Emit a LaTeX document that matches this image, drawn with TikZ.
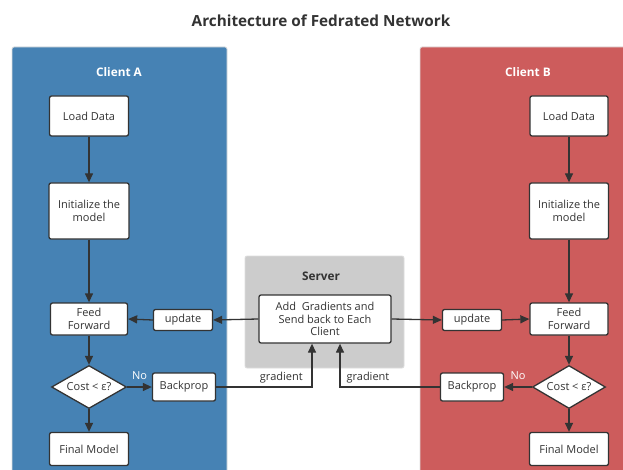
\documentclass[tikz,border=0pt]{standalone}
\usepackage{fontspec}
\setmainfont{Open Sans}
\usetikzlibrary{shapes.geometric,arrows.meta}
\definecolor{txt}{HTML}{333333}
\definecolor{bluep}{HTML}{4682B4}
\definecolor{redp}{HTML}{CD5C5C}
\definecolor{grayp}{HTML}{CCCCCC}
\definecolor{panelline}{HTML}{DDDDDD}
\tikzset{
  panel/.style={draw=panelline, line width=0.8pt, rounded corners=2pt},
  box/.style={draw=txt, fill=white, line width=1.3pt, rounded corners=2pt, align=center,
    inner sep=1pt, font=\fontsize{11}{13.5}\selectfont, text=txt},
  dia/.style={diamond, draw=txt, fill=white, line width=1.3pt, inner sep=0pt, aspect=1.75,
    font=\fontsize{11}{13.5}\selectfont, text=txt},
  conn/.style={draw=txt, line width=1.3pt, -{Triangle[length=9pt,width=8pt]}},
  paneltitle/.style={font=\fontsize{11.8}{14}\selectfont\bfseries, text=white},
  lbl/.style={font=\fontsize{11}{13}\selectfont, text=txt},
  nolbl/.style={font=\fontsize{11}{13}\selectfont, text=white}
}
\begin{document}
\begin{tikzpicture}[x=1pt,y=-1pt]
\clip (0,0) rectangle (623,470);
\fill[white] (0,0) rectangle (623,470);
% title
\node[font=\fontsize{15.3}{18}\selectfont\bfseries, text=txt] (title) at (321,21) {Architecture of Fedrated Network};
% panels
\filldraw[panel, fill=bluep] (12,47) rectangle (227,480);
\filldraw[panel, fill=redp] (420,47) rectangle (635,480);
\filldraw[panel, fill=grayp] (245,256) rectangle (404,368);
\node[paneltitle] (ta) at (119,72) {Client A};
\node[paneltitle] (tb) at (528,72) {Client B};
\node[font=\fontsize{11.8}{14}\selectfont\bfseries, text=txt] (ts) at (321,276) {Server};
% client A
\node[box, minimum width=79pt, minimum height=40pt] (loadA) at (89,116) {Load Data};
\node[box, minimum width=80pt, minimum height=56pt] (initA) at (89,211) {Initialize the\\model};
\node[box, minimum width=77pt, minimum height=32pt] (ffA) at (89,319) {Feed\\Forward};
\node[dia, minimum width=75pt, minimum height=43pt] (diaA) at (89,387) {Cost < ε?};
\node[box, minimum width=79pt, minimum height=33pt] (finA) at (89,449) {Final Model};
\node[box, minimum width=59pt, minimum height=21pt] (updA) at (183,320) {update};
\node[box, minimum width=63pt, minimum height=28pt] (backA) at (184,387) {Backprop};
% server
\node[box, minimum width=132pt, minimum height=48pt, font=\fontsize{11}{12.8}\selectfont] (srv) at (325,319) {Add\ \ Gradients and\\Send back to Each\\Client};
% client B
\node[box, minimum width=78pt, minimum height=40pt] (loadB) at (569,116) {Load Data};
\node[box, minimum width=79pt, minimum height=56pt] (initB) at (569,211) {Initialize the\\model};
\node[box, minimum width=78pt, minimum height=32pt] (ffB) at (569,319) {Feed\\Forward};
\node[dia, minimum width=73pt, minimum height=43pt] (diaB) at (569,387) {Cost < ε?};
\node[box, minimum width=79pt, minimum height=33pt] (finB) at (569,449) {Final Model};
\node[box, minimum width=59pt, minimum height=21pt] (updB) at (472,320) {update};
\node[box, minimum width=63pt, minimum height=28pt] (backB) at (472,387) {Backprop};
% connectors A
\draw[conn] (loadA) -- (initA);
\draw[conn] (initA) -- (ffA);
\draw[conn] (ffA) -- (diaA);
\draw[conn] (diaA) -- (finA);
\draw[conn] (diaA.east) -- node[nolbl, above=3pt] {No} (backA.west);
\draw[conn] (srv.west) -- (updA.east);
\draw[conn] (updA.west) -- (ffA.east);
\draw[conn] (backA.east) -| node[lbl, pos=0.34, above=0pt] {gradient} ([xshift=-13pt]srv.south);
% connectors B
\draw[conn] (loadB) -- (initB);
\draw[conn] (initB) -- (ffB);
\draw[conn] (ffB) -- (diaB);
\draw[conn] (diaB) -- (finB);
\draw[conn] (diaB.west) -- node[nolbl, above=3pt] {No} (backB.east);
\draw[conn] (srv.east) -- (updB.west);
\draw[conn] (updB.east) -- (ffB.west);
\draw[conn] (backB.west) -| node[lbl, pos=0.36, above=0pt] {gradient} ([xshift=15pt]srv.south);
\end{tikzpicture}
\end{document}
